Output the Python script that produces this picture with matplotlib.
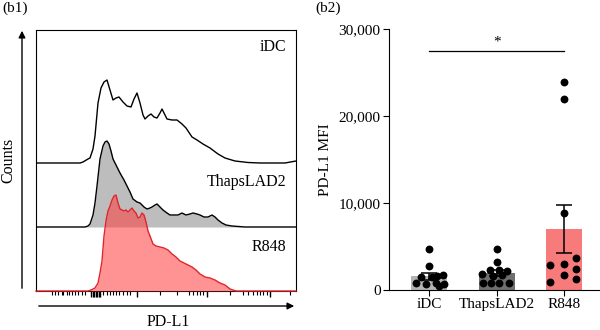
import matplotlib
matplotlib.use("Agg")
import matplotlib.pyplot as plt
import numpy as np
from matplotlib.patches import FancyArrowPatch

plt.rcParams["font.family"] = ["Liberation Serif", "DejaVu Serif"]
plt.rcParams["axes.linewidth"] = 0.8

# --- flow histograms (channel position, counts) ---
IDC_X = [0, 44, 47, 52, 54, 57, 59, 62, 65, 68, 71, 74, 77, 80, 83, 87, 91, 95, 98, 101, 104, 107, 109,
         112, 115, 118, 121, 124, 126, 129, 131, 136, 141, 146, 150, 154, 156, 161, 167, 174, 182, 189,
         199, 212, 224, 249, 260]
IDC_Y = [0, 0, 1, 4, 5, 14, 27, 60, 75, 81, 83, 73, 63, 65, 66, 61, 57, 56, 64, 70, 60, 48, 44,
         47, 49, 46, 45, 50, 54, 48, 44, 43, 43, 39, 35, 29, 26, 23, 19, 15, 9, 5,
         2, 0.5, 0, 0, 2]

THAPS_X = [0, 49, 52, 54, 57, 59, 61, 64, 67, 69, 71, 73, 75, 77, 81, 84, 88, 91, 94, 97, 101, 104, 108,
           111, 114, 116, 119, 121, 124, 127, 131, 134, 138, 142, 146, 150, 154, 157, 161, 164, 168, 172,
           176, 179, 182, 186, 190, 196, 209, 260]
THAPS_Y = [0, 0, 1, 3, 12, 24, 41, 68, 81, 85, 86, 83, 76, 68, 60, 54, 47, 41, 35, 28, 25, 24, 20,
           18, 19, 20, 22, 23, 20, 17, 14, 12, 12, 12, 14, 12, 13, 14, 13, 12, 10, 10,
           12, 10, 7, 4, 2, 1, 0, 0]

R848_X = [0, 52, 55, 59, 62, 64, 66, 68, 70, 72, 74, 76, 78, 80, 82, 84, 86, 88, 90, 92, 94, 96, 98,
          100, 102, 104, 106, 108, 110, 112, 114, 117, 120, 124, 128, 132, 136, 140, 144, 148, 152, 156,
          160, 164, 169, 174, 179, 184, 189, 194, 200, 260]
R848_Y = [0, 0, 1, 3, 8, 18, 30, 55, 70, 80, 85, 91, 95, 96, 88, 82, 81, 80, 81, 79, 81, 83, 80,
          78, 73, 74, 78, 76, 69, 60, 55, 47, 45, 44, 43, 41, 37, 34, 30, 28, 26, 24,
          21, 17, 14, 13, 11, 8, 6, 2, 0, 0]

MINOR_TICKS = [15.7, 19, 22.3, 25.7, 27.3, 30.7, 33.3, 35.7, 39, 42.3, 45.7, 49, 67.3, 70.7, 74, 76.7,
               80, 83.3, 87.3, 90.7, 94, 124, 140.7, 153.3, 157.3, 160.7, 164, 167.3, 194, 207.3,
               212.3, 217.3, 220.7, 224, 227.3, 230.7, 254]
MAJOR_TICKS = [55, 56.5, 58, 59.5, 61, 62.5, 64, 100.7, 170.7, 234]

# --- MFI per donor ---
GROUPS = ["iDC", "ThapsLAD2", "R848"]
MFI_IDC = [4700, 2750, 1500, 1550, 1750, 1650, 750, 650, 850, 450, 700]
MFI_THAPS = [4700, 3250, 2350, 2300, 2200, 1800, 1600, 1700, 850, 850, 750, 800]
MFI_R848 = [23900, 21900, 8800, 2850, 2950, 3700, 2450, 1700, 950, 1250]
JIT_IDC = [0, 0, -0.12, 0.05, 0.2, 0.12, -0.2, -0.05, 0.1, 0.15, 0.22]
JIT_THAPS = [0, 0, -0.1, 0.04, 0.15, -0.22, -0.06, 0.08, -0.2, -0.08, 0.03, 0.18]
JIT_R848 = [0, 0, 0, -0.21, 0, 0.18, 0.18, 0, -0.21, 0.18]

BAR_COLORS = ["#b3b3b3", "#6f6f6f", "#f77b7b"]
GRAY_FILL = "#bdbdbd"
RED_LINE = "#e0242c"

fig = plt.figure(figsize=(6.0, 3.3), dpi=100)

# ---------------- (b1) stacked histograms ----------------
ax1 = fig.add_axes([36 / 600, 39 / 330, 260 / 600, 261 / 330])
ax1.set_xlim(0, 260)
ax1.set_ylim(0, 261)

off_idc, off_thaps, off_r848 = 128, 64, 0
ax1.plot(IDC_X, np.array(IDC_Y) + off_idc, color="black", lw=1.0, zorder=2)
ax1.fill_between(THAPS_X, off_thaps, np.array(THAPS_Y) + off_thaps, color=GRAY_FILL, lw=0, zorder=3)
ax1.plot(THAPS_X, np.array(THAPS_Y) + off_thaps, color="black", lw=1.0, zorder=4)
ax1.fill_between(R848_X, off_r848, np.array(R848_Y) + off_r848, color="#ff3b3b", alpha=0.55, lw=0, zorder=5)
ax1.plot(R848_X, np.array(R848_Y) + off_r848, color=RED_LINE, lw=1.0, zorder=6, clip_on=False)

ax1.text(250, 244, "iDC", ha="right", va="center", fontsize=11.5)
ax1.text(250, 109, "ThapsLAD2", ha="right", va="center", fontsize=11.5)
ax1.text(250, 44, "R848", ha="right", va="center", fontsize=11.5)

ax1.set_yticks([])
ax1.set_xticks(MAJOR_TICKS)
ax1.set_xticks(MINOR_TICKS, minor=True)
ax1.tick_params(axis="x", which="major", length=4, width=1.0, labelbottom=False)
ax1.tick_params(axis="x", which="minor", length=2.8, width=0.8)

# axis arrows outside the frame
for start, end in [((22 / 600, 39 / 330), (22 / 600, 302 / 330)),
                   ((36 / 600, 24 / 330), (297 / 600, 24 / 330))]:
    fig.add_artist(FancyArrowPatch(start, end, transform=fig.transFigure, arrowstyle="-|>",
                                   mutation_scale=10, lw=1.0, color="black"))

fig.text(8 / 600, 170 / 330, "Counts", rotation=90, ha="center", va="center", fontsize=11.5)
fig.text(168 / 600, 8 / 330, "PD-L1", ha="center", va="center", fontsize=11.5)
fig.text(2 / 600, 322 / 330, "(b1)", ha="left", va="center", fontsize=11)
fig.text(315 / 600, 322 / 330, "(b2)", ha="left", va="center", fontsize=11)

# ---------------- (b2) MFI bars ----------------
ax2 = fig.add_axes([389 / 600, 40 / 330, 211 / 600, 261 / 330])
data = [MFI_IDC, MFI_THAPS, MFI_R848]
jitter = [JIT_IDC, JIT_THAPS, JIT_R848]
pos = np.arange(len(GROUPS))
means = [np.mean(v) for v in data]
sems = [np.std(v, ddof=1) / np.sqrt(len(v)) for v in data]

ax2.bar(pos, means, width=0.53, color=BAR_COLORS, zorder=1)
ax2.errorbar(pos, means, yerr=sems, fmt="none", ecolor="black", elinewidth=1.1,
             capsize=6, capthick=1.1, zorder=2)
for i, (vals, jit) in enumerate(zip(data, jitter)):
    ax2.scatter(i + np.array(jit), vals, s=32, color="black", zorder=3, linewidths=0)

# significance bracket iDC vs R848
ax2.plot([0, 2], [27500, 27500], color="black", lw=0.9)
ax2.text(1, 27700, "*", ha="center", va="bottom", fontsize=11)

ax2.set_xlim(-0.593, 2.53)
ax2.set_ylim(0, 30000)
ax2.set_yticks([0, 10000, 20000, 30000])
ax2.set_yticklabels(["0", "10,000", "20,000", "30,000"])
ax2.set_xticks(pos)
ax2.set_xticklabels(GROUPS)
ax2.tick_params(axis="both", length=4, width=0.8, labelsize=11, pad=2)
ax2.set_ylabel("PD-L1 MFI", fontsize=11, labelpad=5)
ax2.spines["top"].set_visible(False)
ax2.spines["right"].set_visible(False)

fig.savefig("out.png", dpi=100)
